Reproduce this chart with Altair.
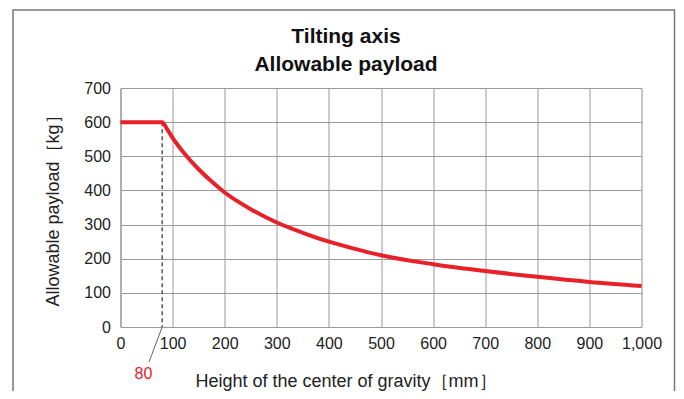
import altair as alt
import pandas as pd

# data
height_mm = [0, 80, 90, 100, 125, 150, 175, 200, 250, 300, 350, 400, 450, 500, 600, 700, 800, 900, 1000]
payload_kg = [600, 600, 578, 554, 504, 462, 426, 394, 345, 306, 276, 250, 229, 210, 184, 164, 147, 132, 120]
x_ticks = [0, 100, 200, 300, 400, 500, 600, 700, 800, 900, 1000]
y_ticks = [0, 100, 200, 300, 400, 500, 600, 700]
marker_x = [80]
marker_y = [600]
title_lines = ["Tilting axis", "Allowable payload"]
x_title = "Height of the center of gravity［mm］"
y_title = "Allowable payload［kg］"

FONT = "Liberation Sans"
RED = "#e8202a"
GRID = "#9a9a9a"

df = pd.DataFrame({"h": height_mm, "p": payload_kg})
mk = pd.DataFrame({"h": marker_x, "p": marker_y, "z": [0]})

xs = alt.Scale(domain=[0, 1000], nice=False)
ys = alt.Scale(domain=[0, 700], nice=False)
xax = alt.Axis(values=x_ticks, format=",.0f", title=None, ticks=False,
               labelPadding=8, labelFontSize=16, labelFont=FONT,
               labelColor="#222", gridColor=GRID, domainColor=GRID, labelFlush=False)
yax = alt.Axis(values=y_ticks, format="d", title=None, ticks=False,
               labelPadding=10, labelFontSize=16, labelFont=FONT,
               labelColor="#222", gridColor=GRID, domainColor=GRID)
X = alt.X("h:Q", scale=xs, axis=xax)
Y = alt.Y("p:Q", scale=ys, axis=yax)

one = pd.DataFrame({"a": [0]})

frame = alt.Chart(one).mark_rect(
    fill=None, stroke="#777777", strokeWidth=1.5, clip=False
).encode(
    x=alt.value(-107.5), x2=alt.value(554), y=alt.value(-78), y2=alt.value(340)
)

line = alt.Chart(df).mark_line(color=RED, strokeWidth=4, interpolate="monotone").encode(x=X, y=Y)

dash = alt.Chart(mk).mark_rule(color="#555555", strokeWidth=1.5, strokeDash=[4, 3]).encode(
    x=X, y=Y, y2="z:Q"
)

leader = alt.Chart(mk).mark_rule(color="#666666", strokeWidth=1).encode(
    x=X, y=alt.value(239), x2=alt.value(28.5), y2=alt.value(274)
)

lbl80 = alt.Chart(one).mark_text(color=RED, fontSize=16, font=FONT, align="center",
                                 baseline="middle").encode(
    text=alt.value("80"), x=alt.value(23), y=alt.value(286)
)

t1 = alt.Chart(one).mark_text(
    fontSize=21, fontWeight="bold", font=FONT, color="#111", align="center", baseline="middle"
).encode(text=alt.value(title_lines[0]), x=alt.value(225.5), y=alt.value(-51))

t2 = alt.Chart(one).mark_text(
    fontSize=21, fontWeight="bold", font=FONT, color="#111", align="center", baseline="middle"
).encode(text=alt.value(title_lines[1]), x=alt.value(225.5), y=alt.value(-23))

xt = alt.Chart(one).mark_text(
    fontSize=18, font=FONT, color="#222", align="center", baseline="middle"
).encode(text=alt.value(x_title), x=alt.value(225.5), y=alt.value(294))

yt = alt.Chart(one).mark_text(
    fontSize=18, font=FONT, color="#222", align="center", baseline="middle", angle=270
).encode(text=alt.value(y_title), x=alt.value(-67), y=alt.value(118.5))

chart = alt.layer(frame, dash, leader, line, lbl80, t1, t2, xt, yt).properties(
    width=521, height=239,
    autosize=alt.AutoSizeParams(type="none"),
    padding={"left": 112.5, "top": 80, "right": 34.5, "bottom": 64},
).configure_view(stroke=GRID, strokeWidth=1).configure(background="white")

chart.save("out.html", embed_options={"renderer": "svg", "actions": False})
